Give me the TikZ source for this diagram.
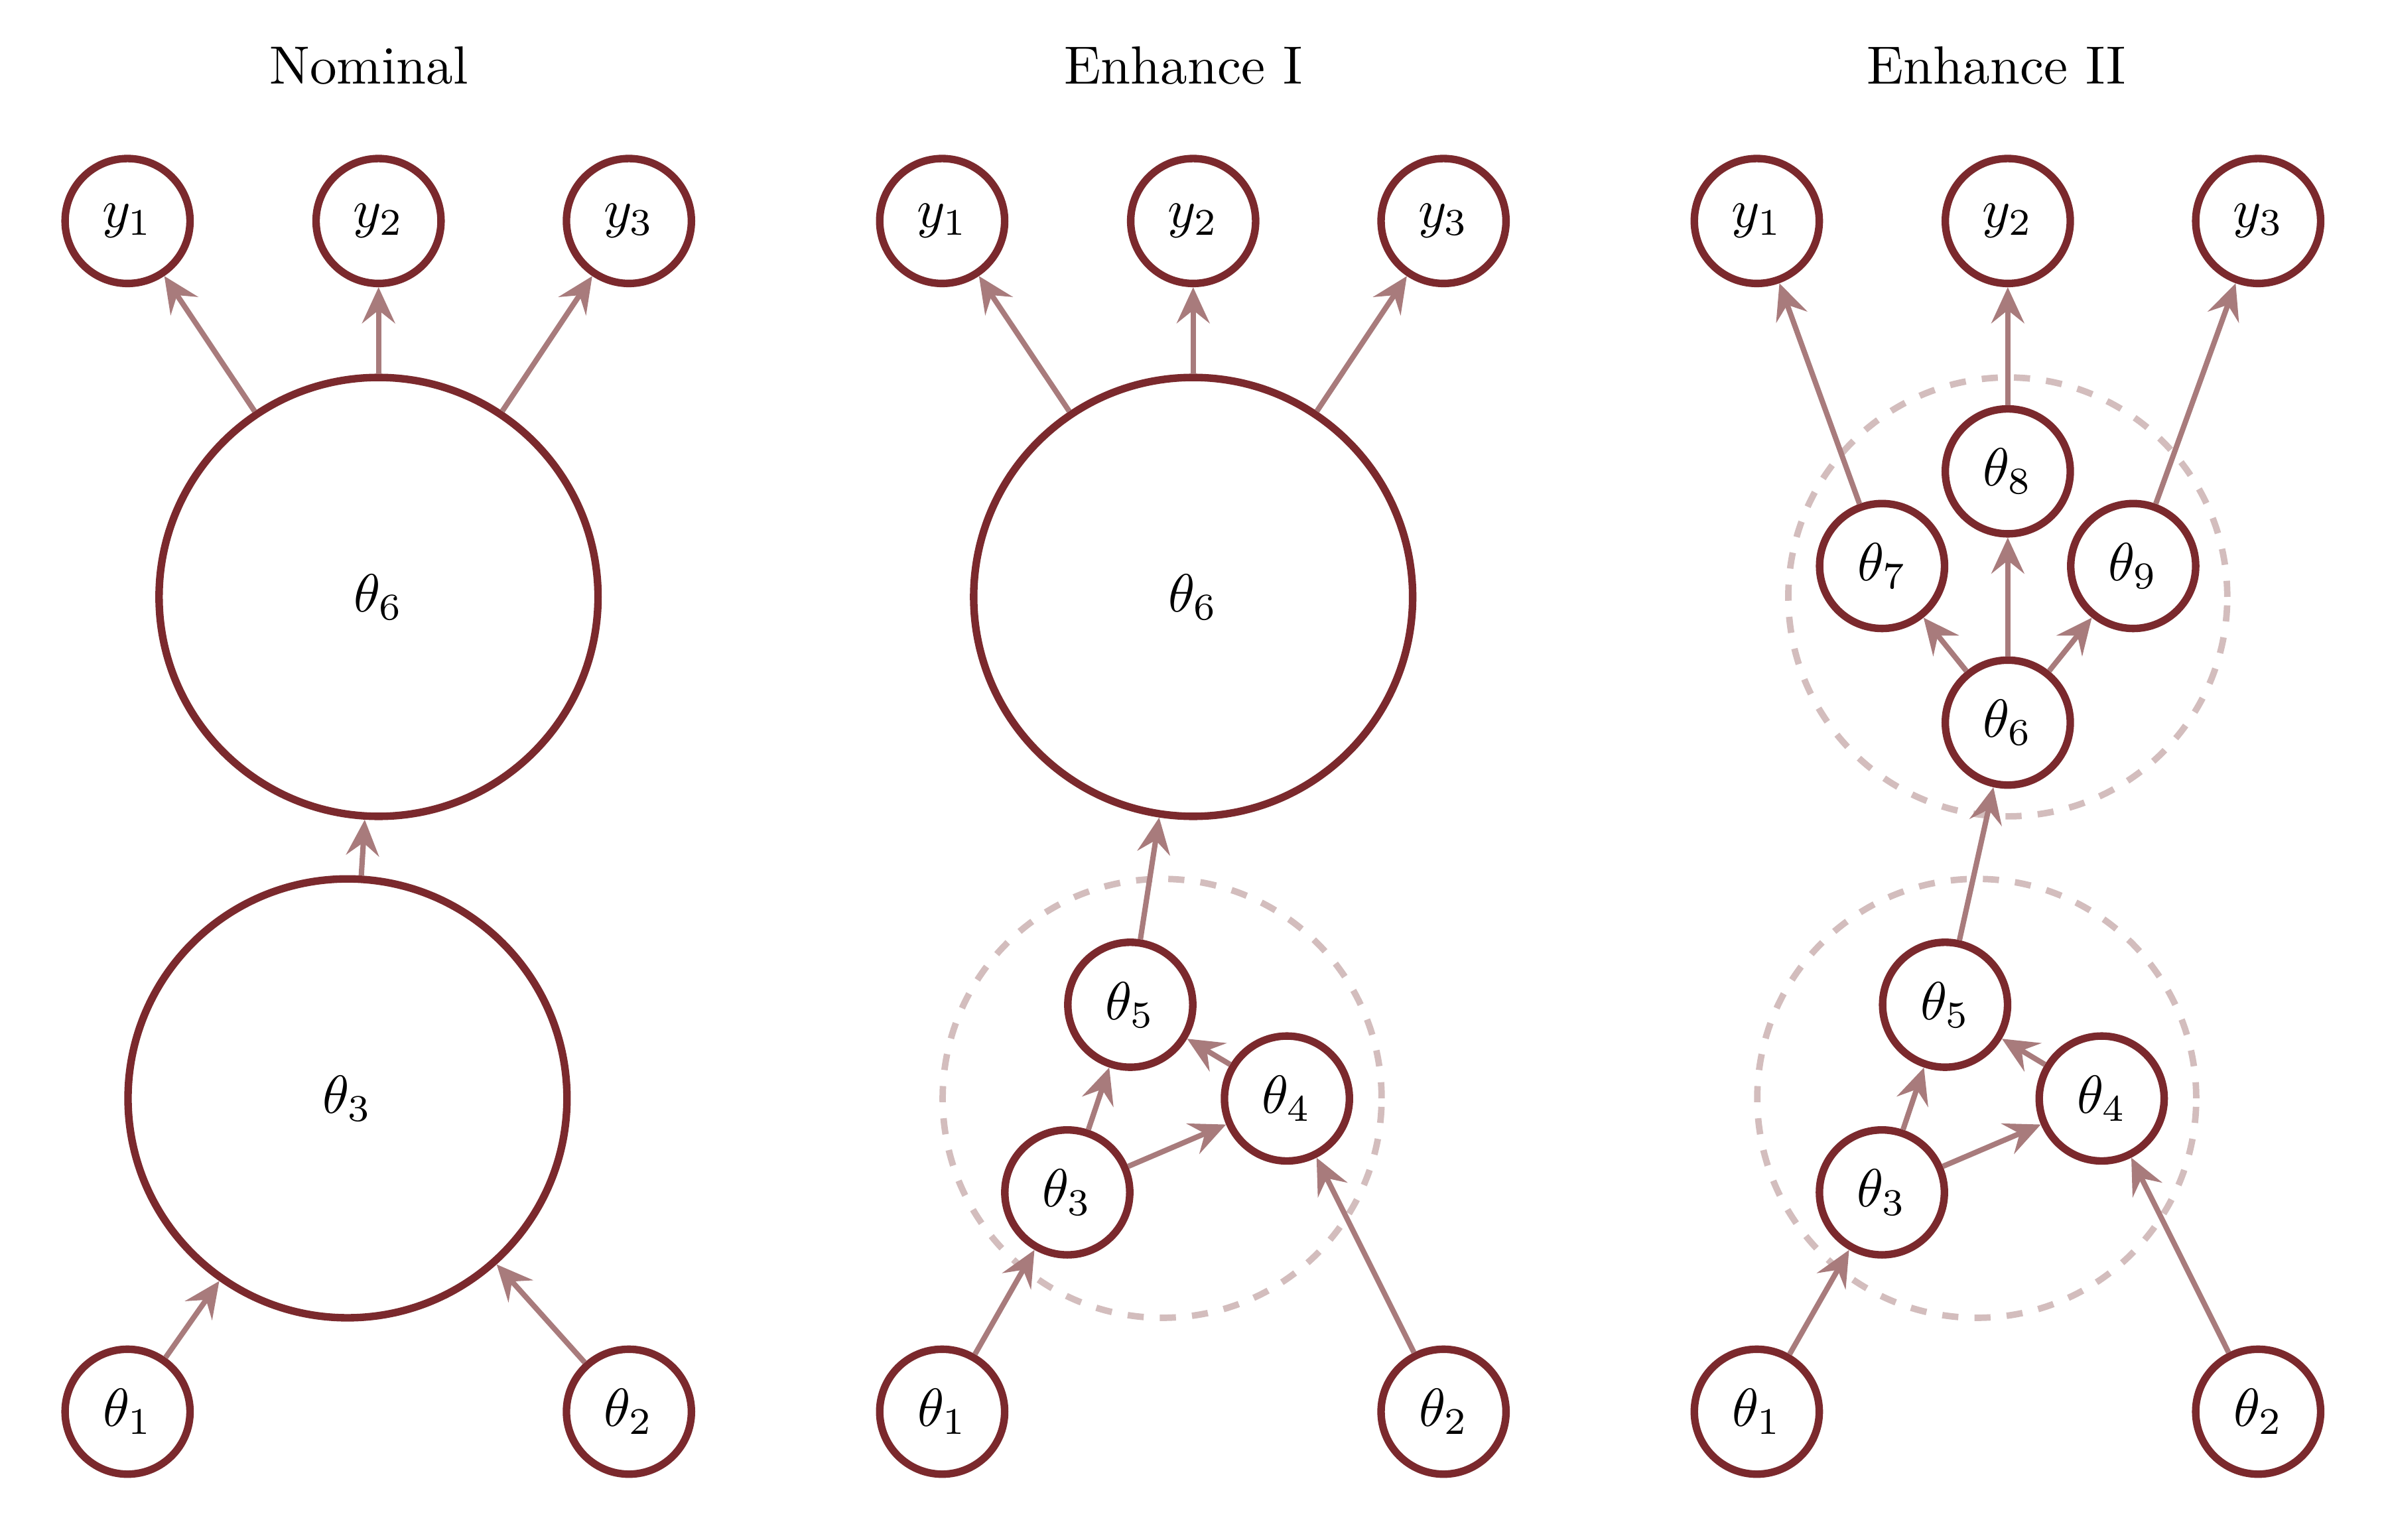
\documentclass[tikz,border=0pt]{standalone}
\usetikzlibrary{arrows.meta}

\definecolor{nodered}{RGB}{123,41,45}
\definecolor{edgered}{RGB}{168,123,124}
\definecolor{groupred}{RGB}{211,189,189}

\tikzset{var/.style={circle,draw=nodered,line width=1.4pt,fill=white,minimum size=0.817cm,inner sep=0pt},
big var/.style={var,minimum size=2.87cm},
group/.style={circle,draw=groupred,line width=1.2pt,dash pattern=on 3pt off 3pt,minimum size=2.87cm,inner sep=0pt},
edge/.style={draw=edgered,line width=1pt,-{Stealth[length=2.35mm,width=2.15mm,inset=0.85mm]}},
panel title/.style={anchor=base}}

\begin{document}
\begin{tikzpicture}
\useasboundingbox (0,0) rectangle (15.600,-10.066);

%% panel titles
\node [panel title] (p1title) at (2.412,-0.549) {Nominal};
\node [panel title] (p2title) at (7.736,-0.549) {Enhance I};
\node [panel title] (p3title) at (13.052,-0.549) {Enhance II};

%% dashed groups
\node [group] (p2g) at (7.598,-7.182) {};
\node [group] (p3gup) at (13.127,-3.903) {};
\node [group] (p3g) at (12.924,-7.182) {};

%% Nominal
\node [var] (p1y1) at (0.834,-1.445) {$y_1$};
\node [var] (p1y2) at (2.475,-1.445) {$y_2$};
\node [var] (p1y3) at (4.112,-1.445) {$y_3$};
\node [big var] (p1t6) at (2.475,-3.903) {$\theta_6$};
\node [big var] (p1t3) at (2.272,-7.182) {$\theta_3$};
\node [var] (p1t1) at (0.834,-9.231) {$\theta_1$};
\node [var] (p1t2) at (4.112,-9.231) {$\theta_2$};

%% Enhance I
\node [var] (p2y1) at (6.160,-1.445) {$y_1$};
\node [var] (p2y2) at (7.801,-1.445) {$y_2$};
\node [var] (p2y3) at (9.438,-1.445) {$y_3$};
\node [big var] (p2t6) at (7.801,-3.903) {$\theta_6$};
\node [var] (p2t5) at (7.390,-6.570) {$\theta_5$};
\node [var] (p2t4) at (8.414,-7.183) {$\theta_4$};
\node [var] (p2t3) at (6.978,-7.797) {$\theta_3$};
\node [var] (p2t1) at (6.160,-9.231) {$\theta_1$};
\node [var] (p2t2) at (9.438,-9.231) {$\theta_2$};

%% Enhance II
\node [var] (p3y1) at (11.486,-1.445) {$y_1$};
\node [var] (p3y2) at (13.127,-1.445) {$y_2$};
\node [var] (p3y3) at (14.764,-1.445) {$y_3$};
\node [var] (p3t8) at (13.127,-3.082) {$\theta_8$};
\node [var] (p3t7) at (12.305,-3.701) {$\theta_7$};
\node [var] (p3t9) at (13.947,-3.701) {$\theta_9$};
\node [var] (p3t6) at (13.127,-4.725) {$\theta_6$};
\node [var] (p3t5) at (12.717,-6.570) {$\theta_5$};
\node [var] (p3t4) at (13.741,-7.183) {$\theta_4$};
\node [var] (p3t3) at (12.304,-7.797) {$\theta_3$};
\node [var] (p3t1) at (11.486,-9.231) {$\theta_1$};
\node [var] (p3t2) at (14.764,-9.231) {$\theta_2$};

%% edges, Nominal
\draw [edge] (p1t1) -- (p1t3);
\draw [edge] (p1t2) -- (p1t3);
\draw [edge] (p1t3) -- (p1t6);
\draw [edge] (p1t6) -- (p1y1);
\draw [edge] (p1t6) -- (p1y2);
\draw [edge] (p1t6) -- (p1y3);

%% edges, Enhance I
\draw [edge] (p2t1) -- (p2t3);
\draw [edge] (p2t2) -- (p2t4);
\draw [edge] (p2t3) -- (p2t5);
\draw [edge] (p2t3) -- (p2t4);
\draw [edge] (p2t4) -- (p2t5);
\draw [edge] (p2t5) -- (p2t6);
\draw [edge] (p2t6) -- (p2y1);
\draw [edge] (p2t6) -- (p2y2);
\draw [edge] (p2t6) -- (p2y3);

%% edges, Enhance II
\draw [edge] (p3t1) -- (p3t3);
\draw [edge] (p3t2) -- (p3t4);
\draw [edge] (p3t3) -- (p3t5);
\draw [edge] (p3t3) -- (p3t4);
\draw [edge] (p3t4) -- (p3t5);
\draw [edge] (p3t5) -- (p3t6);
\draw [edge] (p3t6) -- (p3t7);
\draw [edge] (p3t6) -- (p3t8);
\draw [edge] (p3t6) -- (p3t9);
\draw [edge] (p3t7) -- (p3y1);
\draw [edge] (p3t8) -- (p3y2);
\draw [edge] (p3t9) -- (p3y3);

\end{tikzpicture}
\end{document}
